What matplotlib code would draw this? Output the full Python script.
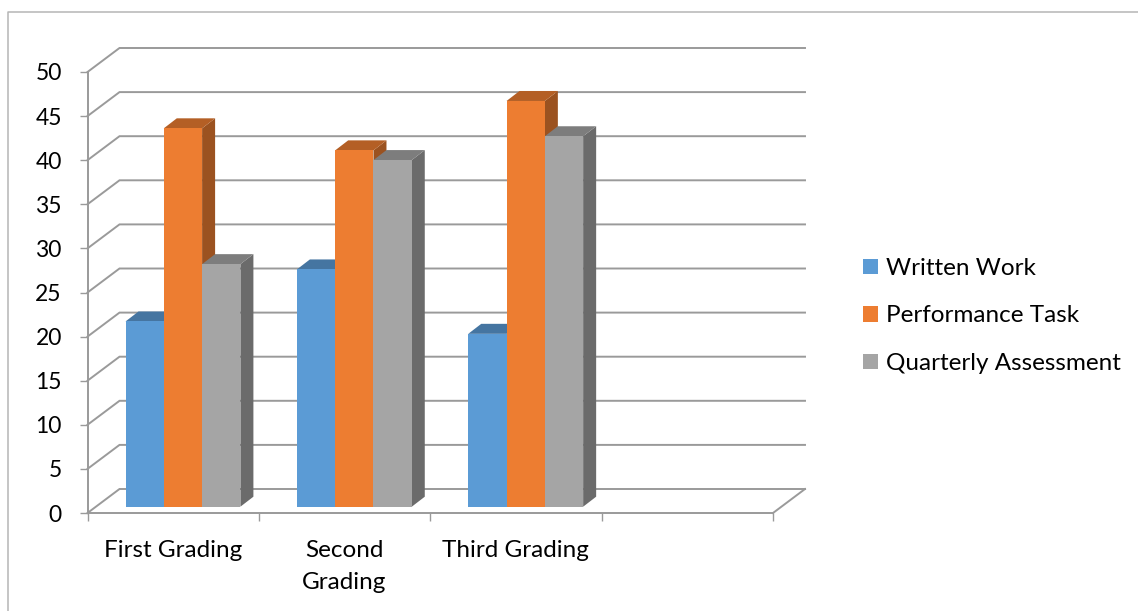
import matplotlib
matplotlib.use('Agg')
import matplotlib.pyplot as plt
from matplotlib.lines import Line2D
from matplotlib.patches import Patch

# Data
categories = ['First Grading', 'Second\nGrading', 'Third Grading', '']
series_names = ['Written Work', 'Performance Task', 'Quarterly Assessment']
written_work = [21.0, 26.9, 19.6]
performance_task = [42.9, 40.4, 46.0]
quarterly_assessment = [27.5, 39.3, 42.0]
y_ticks = list(range(0, 55, 5))

front_colors = ['#5B9BD5', '#ED7D31', '#A5A5A5']
top_colors = ['#4575A1', '#B45F25', '#7D7D7D']
side_colors = ['#3E6A92', '#9B5220', '#6B6B6B']
line_color = '#9A9A9A'
font_size = 17.5

W, H = 1138, 611
fig = plt.figure(figsize=(W / 100, H / 100), dpi=100)
plt.rcParams['font.family'] = ['Lato', 'DejaVu Sans']
ax = fig.add_axes([87.5 / W, (H - 513) / H, 685.5 / W, 441 / H])
ax.set_xlim(0, 4)
ax.set_ylim(0, 50)

# oblique offsets for the back wall and the bars, in data units
px_x = 4 / 685.5
px_y = 50 / 441
wall_dx, wall_dy = 32 * px_x, 24 * px_y
bar_dx, bar_dy = 13 * px_x, 10 * px_y
bar_start = 38 * px_x
bar_floor = 6.3 * px_y
bar_w = 38.3 * px_x

# walls
for v in y_ticks:
    ax.plot([0, wall_dx, 4 + wall_dx], [v, v + wall_dy, v + wall_dy], color=line_color,
            lw=1.4, clip_on=False, zorder=1, solid_joinstyle='miter')
ax.plot([4, 4 + wall_dx], [0, wall_dy], color=line_color, lw=1.4, clip_on=False, zorder=1)

# bars, left to right so each one covers the side of the previous
all_values = [written_work, performance_task, quarterly_assessment]
z = 3
for c in range(3):
    for s, values in enumerate(all_values):
        x0 = c + bar_start + s * bar_w
        x1 = x0 + bar_w
        top = values[c] + bar_floor
        ax.fill([x1, x1 + bar_dx, x1 + bar_dx, x1],
                [bar_floor, bar_floor + bar_dy, top + bar_dy, top],
                color=side_colors[s], lw=0, clip_on=False, zorder=z)
        ax.fill([x0, x0 + bar_dx, x1 + bar_dx, x1],
                [top, top + bar_dy, top + bar_dy, top],
                color=top_colors[s], lw=0, clip_on=False, zorder=z)
        ax.bar(x0, values[c], width=bar_w, bottom=bar_floor, align='edge',
               color=front_colors[s], lw=0, clip_on=False, zorder=z + 1)
        z += 2

# axes
for name in ['top', 'right']:
    ax.spines[name].set_visible(False)
for name in ['left', 'bottom']:
    ax.spines[name].set_color(line_color)
    ax.spines[name].set_linewidth(1.4)
    ax.spines[name].set_zorder(2)
ax.patch.set_alpha(0)
ax.set_yticks(y_ticks)
ax.set_xticks(range(5))
ax.set_xticklabels([])
ax.set_xticks([i + 0.5 for i in range(4)], labels=categories, minor=True, linespacing=1.65)
ax.tick_params(axis='both', which='major', color=line_color, width=1, length=6)
ax.tick_params(axis='x', which='minor', length=0, pad=19.5)
ax.tick_params(axis='y', labelsize=16.5, labelcolor='black', pad=12.5)
ax.tick_params(axis='x', which='minor', labelsize=font_size, labelcolor='black')
for label in ax.get_yticklabels():
    label.set_verticalalignment('center_baseline')

# legend
handles = [Patch(color=c, lw=0) for c in front_colors]
fig.legend(handles, series_names, loc='center left', bbox_to_anchor=(863 / W, (H - 316) / H),
           frameon=False, fontsize=font_size, handlelength=0.617, handleheight=0.617,
           handletextpad=0.32, labelspacing=1.09, borderpad=0, borderaxespad=0)

# chart border
border = '#B5B5B5'
fig.add_artist(Line2D([7.5 / W, 7.5 / W, 1], [0, (H - 11.5) / H, (H - 11.5) / H],
                      color=border, lw=1.1, transform=fig.transFigure))

fig.savefig('out.png', dpi=100)
